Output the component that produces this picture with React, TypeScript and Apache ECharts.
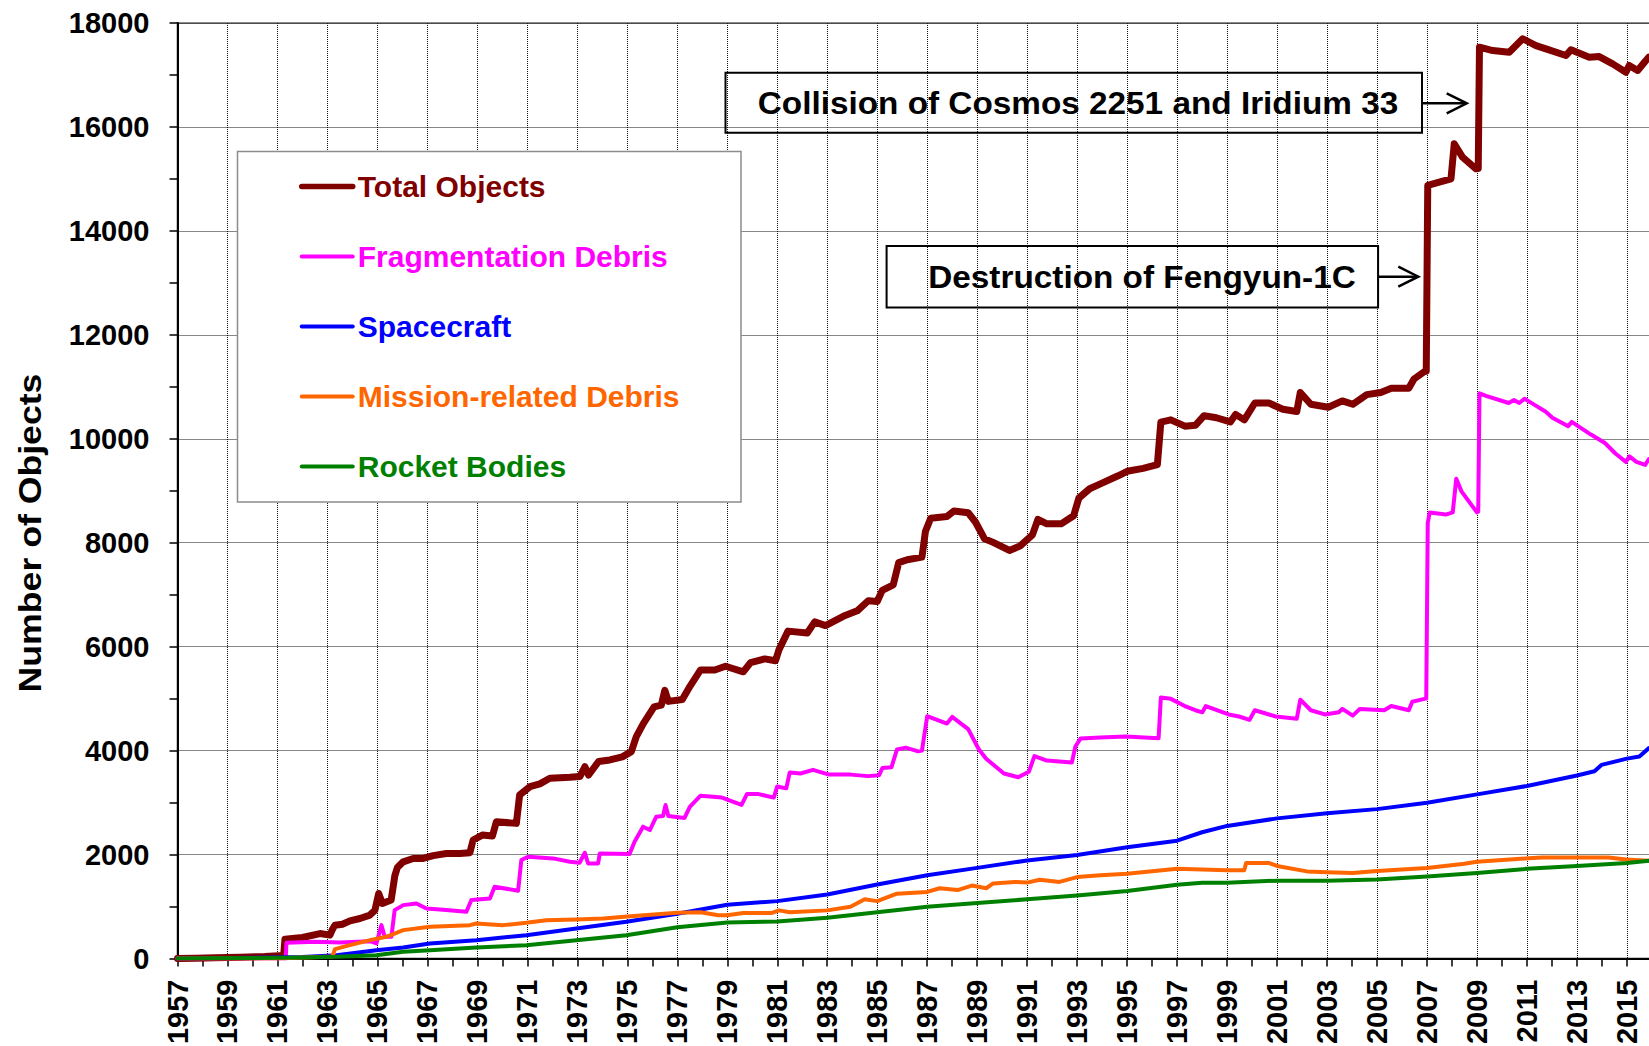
import React, { useEffect, useRef } from "react";
import * as echarts from "echarts";

const FONT = '"Liberation Sans", Arial, Helvetica, sans-serif';
const BASE_YEAR = 1957;

const yTicks = [0, 2000, 4000, 6000, 8000, 10000, 12000, 14000, 16000, 18000];

const seriesNames = [
  "Total Objects",
  "Fragmentation Debris",
  "Spacecraft",
  "Mission-related Debris",
  "Rocket Bodies",
];
const seriesColors = ["#800000", "#FF00FF", "#0000FF", "#FF6600", "#008000"];

const totalObjects: [number, number][] = [
  [1957.0, 0], [1957.75, 5], [1958.5, 15], [1959.5, 25], [1960.5, 40], [1961.25, 60], [1961.3, 372],
  [1962.0, 404], [1962.7, 480], [1963.1, 450], [1963.2, 560], [1963.3, 640], [1963.6, 660], [1963.9, 725],
  [1964.3, 770], [1964.7, 835], [1964.9, 930], [1965.05, 1250], [1965.2, 1060], [1965.55, 1125],
  [1965.7, 1600], [1965.8, 1750], [1966.03, 1860], [1966.43, 1925], [1966.83, 1925], [1967.23, 1980],
  [1967.76, 2020], [1968.3, 2020], [1968.7, 2035], [1968.83, 2280], [1969.2, 2375], [1969.6, 2355],
  [1969.76, 2630], [1970.56, 2600], [1970.69, 3145], [1971.1, 3306], [1971.5, 3360], [1971.9, 3467],
  [1972.7, 3486], [1973.1, 3500], [1973.3, 3690], [1973.45, 3530], [1973.85, 3790], [1974.3, 3820],
  [1974.8, 3880], [1975.16, 3980], [1975.36, 4270], [1975.64, 4520], [1976.07, 4840], [1976.36, 4876],
  [1976.5, 5160], [1976.64, 4947], [1977.2, 4983], [1977.5, 5232], [1977.93, 5552], [1978.5, 5552],
  [1978.93, 5623], [1979.64, 5516], [1979.93, 5694], [1980.5, 5765], [1980.93, 5730], [1981.07, 5943],
  [1981.43, 6299], [1982.2, 6264], [1982.5, 6477], [1982.93, 6406], [1983.64, 6584], [1984.2, 6690],
  [1984.64, 6883], [1985.0, 6869], [1985.2, 7082], [1985.64, 7189], [1985.86, 7616], [1986.2, 7673],
  [1986.79, 7723], [1986.93, 8220], [1987.14, 8470], [1987.79, 8505], [1988.07, 8612], [1988.64, 8577],
  [1988.93, 8399], [1989.29, 8078], [1989.64, 8007], [1990.29, 7851], [1990.71, 7936], [1991.21, 8150],
  [1991.43, 8449], [1991.79, 8363], [1992.36, 8363], [1992.86, 8520], [1993.07, 8861], [1993.5, 9039],
  [1993.93, 9132], [1994.64, 9288], [1995.0, 9374], [1995.64, 9431], [1996.21, 9502], [1996.35, 10320],
  [1996.75, 10364], [1997.31, 10243], [1997.73, 10259], [1998.08, 10445], [1998.57, 10405],
  [1999.13, 10324], [1999.34, 10469], [1999.69, 10364], [2000.11, 10688], [2000.67, 10688],
  [2001.23, 10567], [2001.79, 10526], [2001.93, 10891], [2002.35, 10664], [2003.05, 10607],
  [2003.61, 10729], [2004.03, 10664], [2004.59, 10850], [2005.15, 10891], [2005.57, 10972],
  [2006.27, 10972], [2006.48, 11150], [2006.9, 11295], [2006.97, 11300], [2007.03, 14875],
  [2007.49, 14939], [2007.96, 15003], [2008.09, 15676], [2008.42, 15418], [2008.96, 15195],
  [2009.05, 15200], [2009.1, 17534], [2009.63, 17470], [2010.29, 17438], [2010.49, 17534],
  [2010.83, 17697], [2011.36, 17566], [2011.76, 17502], [2012.56, 17374], [2012.76, 17483],
  [2013.49, 17342], [2013.89, 17354], [2014.43, 17214], [2014.96, 17053], [2015.09, 17182],
  [2015.43, 17086], [2015.76, 17278], [2015.88, 17342],
];

const fragmentationDebris: [number, number][] = [
  [1957.0, 0], [1961.33, 0], [1961.36, 302], [1962.5, 320], [1963.5, 310], [1964.7, 334], [1964.96, 290],
  [1965.16, 642], [1965.29, 417], [1965.56, 417], [1965.69, 931], [1966.03, 1027], [1966.56, 1059],
  [1966.96, 963], [1967.76, 931], [1968.56, 899], [1968.76, 1124], [1969.5, 1156], [1969.69, 1380],
  [1970.63, 1303], [1970.76, 1894], [1971.03, 1958], [1972.03, 1926], [1972.7, 1862], [1973.09, 1843],
  [1973.3, 2035], [1973.43, 1830], [1973.83, 1830], [1973.9, 2022], [1975.09, 2009], [1975.29, 2247],
  [1975.63, 2536], [1975.9, 2472], [1976.16, 2728], [1976.43, 2741], [1976.53, 2954], [1976.64, 2741],
  [1977.29, 2705], [1977.5, 2919], [1977.93, 3132], [1978.79, 3096], [1979.57, 2954], [1979.79, 3167],
  [1980.21, 3167], [1980.86, 3096], [1981.0, 3310], [1981.36, 3274], [1981.5, 3580], [1981.93, 3559],
  [1982.43, 3630], [1983.07, 3538], [1983.93, 3538], [1984.64, 3509], [1985.07, 3524], [1985.21, 3666],
  [1985.57, 3680], [1985.79, 4022], [1986.14, 4057], [1986.64, 3986], [1986.79, 4000], [1987.0, 4662],
  [1987.21, 4627], [1987.79, 4520], [1988.0, 4648], [1988.64, 4413], [1989.07, 4022], [1989.36, 3844],
  [1990.07, 3559], [1990.64, 3488], [1991.07, 3595], [1991.29, 3894], [1991.79, 3808], [1992.79, 3773],
  [1992.93, 4079], [1993.14, 4235], [1993.93, 4250], [1994.93, 4271], [1996.26, 4240], [1996.35, 5020],
  [1996.75, 4996], [1997.31, 4858], [1997.73, 4777], [1998.01, 4737], [1998.15, 4858], [1999.06, 4696],
  [1999.48, 4656], [1999.9, 4591], [2000.11, 4777], [2000.95, 4656], [2001.79, 4615], [2001.93, 4980],
  [2002.35, 4777], [2002.91, 4696], [2003.47, 4737], [2003.61, 4802], [2004.03, 4672], [2004.31, 4802],
  [2005.29, 4777], [2005.57, 4858], [2006.27, 4777], [2006.41, 4939], [2006.9, 4996], [2006.97, 5000],
  [2007.03, 8380], [2007.11, 8583], [2007.75, 8542], [2008.03, 8583], [2008.17, 9231], [2008.38, 8988],
  [2009.0, 8583], [2009.05, 8600], [2009.1, 10874], [2009.36, 10826], [2010.27, 10688], [2010.48, 10745],
  [2010.69, 10688], [2010.9, 10769], [2011.32, 10648], [2011.74, 10526], [2012.02, 10405],
  [2012.65, 10243], [2012.79, 10324], [2013.56, 10081], [2014.12, 9919], [2014.54, 9717], [2014.96, 9555],
  [2015.1, 9660], [2015.38, 9555], [2015.73, 9498], [2015.88, 9611],
];

const spacecraft: [number, number][] = [
  [1957.0, 0], [1958.0, 5], [1960.0, 15], [1962.0, 30], [1963.36, 64], [1964.96, 160], [1966.03, 212],
  [1967.1, 289], [1968.96, 353], [1970.96, 449], [1972.96, 578], [1974.96, 706], [1977.0, 860],
  [1979.0, 1033], [1981.0, 1104], [1983.0, 1232], [1985.0, 1424], [1987.0, 1602], [1989.0, 1744],
  [1991.0, 1886], [1993.0, 1993], [1995.0, 2140], [1997.0, 2267], [1998.0, 2429], [1999.0, 2551],
  [2001.0, 2696], [2003.0, 2793], [2005.0, 2874], [2007.0, 2996], [2009.0, 3158], [2011.0, 3320],
  [2013.0, 3522], [2013.7, 3603], [2013.98, 3725], [2015.0, 3846], [2015.5, 3887], [2015.88, 4049],
];

const missionDebris: [number, number][] = [
  [1957.0, 0], [1961.0, 0], [1963.2, 40], [1963.3, 180], [1963.9, 257], [1964.7, 353], [1965.36, 417],
  [1966.03, 546], [1967.1, 610], [1968.7, 642], [1968.96, 674], [1970.03, 642], [1970.96, 687],
  [1971.76, 738], [1972.96, 751], [1974.03, 770], [1975.0, 810], [1977.0, 880], [1977.93, 890],
  [1978.64, 833], [1979.0, 833], [1979.64, 876], [1980.79, 876], [1981.07, 926], [1981.5, 890],
  [1983.0, 926], [1983.93, 997], [1984.5, 1139], [1985.0, 1104], [1985.79, 1246], [1987.0, 1281],
  [1987.5, 1352], [1988.21, 1317], [1988.79, 1403], [1989.36, 1352], [1989.64, 1445], [1990.5, 1474],
  [1991.0, 1460], [1991.5, 1516], [1992.29, 1474], [1993.0, 1566], [1993.93, 1602], [1995.0, 1630],
  [1996.4, 1700], [1997.0, 1725], [1999.0, 1700], [1999.69, 1700], [1999.76, 1838], [2000.67, 1838],
  [2001.0, 1781], [2002.2, 1676], [2003.0, 1660], [2004.03, 1644], [2005.0, 1684], [2007.0, 1741],
  [2008.5, 1822], [2009.0, 1862], [2010.74, 1919], [2011.6, 1943], [2013.0, 1943], [2014.26, 1943],
  [2014.96, 1903], [2015.88, 1880],
];

const rocketBodies: [number, number][] = [
  [1957.0, 0], [1958.0, 3], [1960.0, 10], [1962.0, 20], [1963.36, 32], [1964.96, 64], [1966.03, 128],
  [1967.1, 160], [1968.96, 212], [1970.96, 257], [1972.96, 353], [1974.96, 449], [1977.0, 600],
  [1979.0, 691], [1981.0, 712], [1983.0, 784], [1985.0, 890], [1987.0, 997], [1989.0, 1068],
  [1991.0, 1139], [1993.0, 1210], [1995.0, 1300], [1997.0, 1417], [1998.0, 1457], [1999.0, 1457],
  [2001.0, 1498], [2003.0, 1498], [2005.0, 1522], [2007.0, 1579], [2009.0, 1644], [2011.0, 1725],
  [2013.0, 1781], [2015.0, 1838], [2015.88, 1880],
];

const seriesData = [totalObjects, fragmentationDebris, spacecraft, missionDebris, rocketBodies];
const seriesWidths = [7, 4, 4, 4, 4];
const legendLineWidths = [5.5, 4, 4, 4, 4];

const annotations = [
  { text: "Collision of Cosmos 2251 and Iridium 33" },
  { text: "Destruction of Fengyun-1C" },
];

// the axis runs to 2017; the page edge cuts it near the end of 2015, as in the reference
const X_SPAN = 60;
const PX_PER_YEAR = 24.99;
const GRID_LEFT = 177.5;

export default function App() {
  const ref = useRef<HTMLDivElement>(null);

  useEffect(() => {
    document.body.style.margin = "0";
    if (!ref.current) return;
    const chart = echarts.init(ref.current, undefined, { renderer: "svg" });

    const axisFont = { fontFamily: FONT, fontWeight: "bold" as const, fontSize: 29, color: "#000" };
    const tickStyle = { color: "#000", width: 1.5 };
    const gridLine = { color: "#111", width: 1, type: "dotted" as const };

    const series = seriesNames.map((name, i) => ({
      name,
      type: "line" as const,
      xAxisIndex: 0,
      yAxisIndex: 0,
      symbol: "none",
      showSymbol: false,
      silent: true,
      data: seriesData[i].map(([yr, v]) => [yr - BASE_YEAR, v]),
      lineStyle: { color: seriesColors[i], width: seriesWidths[i], cap: "round", join: "round" },
      itemStyle: { color: seriesColors[i] },
      z: 2 + i,
    }));

    const arrowStyle = { stroke: "#000", lineWidth: 2.5, fill: "none" };
    const annFont = { fontFamily: FONT, fontWeight: "bold", fontSize: 31, fill: "#000", align: "center", verticalAlign: "middle" };

    chart.setOption({
      animation: false,
      backgroundColor: "#fff",
      grid: {
        left: GRID_LEFT,
        top: 23,
        right: 1649 - (GRID_LEFT + X_SPAN * PX_PER_YEAR),
        bottom: 87.5,
        show: true,
        borderColor: "#8a8a8a",
        borderWidth: 2,
        backgroundColor: "transparent",
        containLabel: false,
        outerBoundsMode: "none",
      },
      legend: {
        orient: "vertical",
        left: 237.5,
        top: 151.5,
        padding: [20, 61.5, 20.5, 61.5],
        itemWidth: 51,
        itemHeight: 6,
        itemGap: 40,
        itemTextGap: 0,
        backgroundColor: "#fff",
        borderColor: "#8c8c8c",
        borderWidth: 1.5,
        borderRadius: 0,
        selectedMode: false,
        itemStyle: { opacity: 0 },
        textStyle: { fontFamily: FONT, fontWeight: "bold", fontSize: 30 },
        data: seriesNames.map((name, i) => ({
          name,
          textStyle: { color: seriesColors[i] },
          lineStyle: { color: seriesColors[i], width: legendLineWidths[i], cap: "round" },
        })),
        z: 20,
      },
      xAxis: [
        {
          // yearly ticks and labels on odd years
          type: "value",
          min: 0,
          max: X_SPAN,
          interval: 1,
          position: "bottom",
          axisLine: { show: true, lineStyle: { color: "#000", width: 2 } },
          axisTick: { show: true, length: 8, lineStyle: tickStyle },
          minorTick: { show: false },
          minorSplitLine: { show: false },
          axisLabel: {
            ...axisFont,
            rotate: 90,
            margin: 21,
            showMaxLabel: false,
            showMinLabel: true,
            hideOverlap: false,
            formatter: (v: number) => (Math.round(v) % 2 === 0 ? String(Math.round(v + BASE_YEAR)) : ""),
          },
          splitLine: { show: false, lineStyle: { opacity: 0, width: 0 } },
        },
        {
          // vertical grid lines every two years
          type: "value",
          min: 0,
          max: X_SPAN,
          interval: 2,
          position: "bottom",
          axisLine: { show: false },
          axisTick: { show: false },
          axisLabel: { show: false },
          splitLine: { show: true, lineStyle: gridLine },
        },
      ],
      yAxis: {
        type: "value",
        min: yTicks[0],
        max: yTicks[yTicks.length - 1],
        interval: yTicks[1] - yTicks[0],
        axisLine: { show: true, lineStyle: { color: "#000", width: 2 } },
        axisTick: { show: true, length: 8, lineStyle: tickStyle },
        minorTick: { show: true, splitNumber: 2, length: 8, lineStyle: tickStyle },
        minorSplitLine: { show: false },
        axisLabel: { ...axisFont, margin: 28, formatter: (v: number) => String(v) },
        splitLine: { show: true, lineStyle: gridLine },
      },
      graphic: [
        {
          type: "text",
          x: 30,
          y: 533,
          rotation: Math.PI / 2,
          scaleX: 1.15,
          style: { ...annFont, text: "Number of Objects" },
        },
        {
          type: "rect",
          shape: { x: 725.5, y: 72.7, width: 696.5, height: 60 },
          style: { fill: "none", stroke: "#000", lineWidth: 2 },
          z: 10,
        },
        {
          type: "text",
          x: 1078,
          y: 103,
          scaleX: 1.075,
          style: { ...annFont, text: annotations[0].text },
          z: 10,
        },
        { type: "line", shape: { x1: 1422, y1: 103.3, x2: 1466.7, y2: 103.3 }, style: arrowStyle, z: 10 },
        {
          type: "polyline",
          shape: { points: [[1446.7, 93.3], [1466.7, 103.3], [1446.7, 113.3]] },
          style: arrowStyle,
          z: 10,
        },
        {
          type: "rect",
          shape: { x: 886.6, y: 246, width: 491.5, height: 61.5 },
          style: { fill: "none", stroke: "#000", lineWidth: 2 },
          z: 10,
        },
        {
          type: "text",
          x: 1142,
          y: 277,
          scaleX: 1.075,
          style: { ...annFont, text: annotations[1].text },
          z: 10,
        },
        { type: "line", shape: { x1: 1378, y1: 276.7, x2: 1418.3, y2: 276.7 }, style: arrowStyle, z: 10 },
        {
          type: "polyline",
          shape: { points: [[1398.3, 266.7], [1418.3, 276.7], [1398.3, 286.7]] },
          style: arrowStyle,
          z: 10,
        },
      ],
      series,
    });

    return () => {
      chart.dispose();
    };
  }, []);

  return <div ref={ref} style={{ width: 1649, height: 1046, overflow: "hidden" }} />;
}
